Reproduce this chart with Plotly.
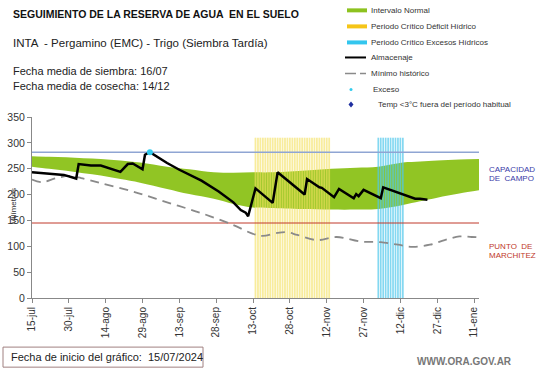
import datetime as dt
import plotly.graph_objects as go

# ---------------- data ----------------
start = dt.date(2024, 7, 15)

band_days = [0, 7, 14, 21, 28, 36, 44, 55, 64, 74, 82, 90, 97, 110, 122, 132, 141, 151, 158, 165, 174, 183]
band_upper = [274, 273, 272, 270, 269, 266, 262, 254, 249, 243, 242, 243, 243, 246, 250, 252, 254, 262, 264, 266, 268, 269]
band_lower = [254, 250, 246, 241, 237, 230, 223, 211, 201, 192, 182, 175, 174, 172, 171, 171, 172, 180, 187, 194, 202, 209]

alm_days = [0, 7, 13, 18, 19, 24, 28, 36, 39, 41, 45, 46, 48, 55, 60, 69, 76, 82, 85, 87, 88, 91, 98, 100,
            111, 112, 117, 118, 123, 125, 131, 132, 133, 135, 142, 143, 151, 156, 158, 161]
alm_vals = [243, 241, 238, 231, 259, 256, 256, 244, 259, 260, 249, 277, 282, 261, 248, 227, 206, 185, 170, 165, 158, 212, 184, 243,
            200, 230, 214, 213, 195, 211, 193, 201, 197, 209, 193, 214, 201, 192, 192, 190]

min_days = [0, 4, 10, 15, 20, 28, 41, 55, 69, 82, 90, 94, 100, 104, 108, 116, 124, 134, 142, 149, 155, 162, 168, 174, 179, 183]
min_vals = [229, 224, 232, 236, 232, 222, 206, 185, 164, 141, 124, 120, 126, 127, 122, 112, 118, 109, 108, 103, 99, 103, 112, 119, 118, 117]

deficit_days = list(range(91, 122))      # Periodo crítico déficit hídrico
exceso_days = list(range(141, 152))      # Periodo crítico excesos hídricos
period_top = 310

exceso_pt_days = [48]
exceso_pt_vals = [282]

capacidad_campo = 282
punto_marchitez = 145

tick_days = list(range(0, 181, 15))
tick_labels = ["15-jul", "30-jul", "14-ago", "29-ago", "13-sep", "28-sep", "13-oct",
               "28-oct", "12-nov", "27-nov", "12-dic", "27-dic", "11-ene"]

y_ticks = [0, 50, 100, 150, 200, 250, 300, 350]


def D(d):
    return start + dt.timedelta(days=d)


fig = go.Figure()

# green band
fig.add_trace(go.Scatter(x=[D(d) for d in band_days], y=band_lower, mode="lines", line_shape="spline",
                         line=dict(width=0, color="rgba(0,0,0,0)"), hoverinfo="skip", showlegend=False))
fig.add_trace(go.Scatter(x=[D(d) for d in band_days], y=band_upper, mode="lines", fill="tonexty",
                         fillcolor="rgba(127,187,0,0.86)", line=dict(width=0, color="rgba(0,0,0,0)"),
                         showlegend=False, line_shape="spline"))


def stripes(days):
    xs, ys = [], []
    for d in days:
        xs += [D(d), D(d), None]
        ys += [0, period_top, None]
    return xs, ys


xs, ys = stripes(deficit_days)
fig.add_trace(go.Scatter(x=xs, y=ys, mode="lines", line=dict(color="rgba(243,224,95,0.62)", width=1.8),
                         showlegend=False))
xs, ys = stripes(exceso_days)
fig.add_trace(go.Scatter(x=xs, y=ys, mode="lines", line=dict(color="rgba(80,200,235,0.7)", width=1.7),
                         showlegend=False))

# reference lines
x_full = [D(0), D(183)]
fig.add_trace(go.Scatter(x=x_full, y=[capacidad_campo] * 2, mode="lines",
                         line=dict(color="#8FA5D3", width=1.5), showlegend=False))
fig.add_trace(go.Scatter(x=x_full, y=[punto_marchitez] * 2, mode="lines",
                         line=dict(color="#C0392B", width=1), showlegend=False))

# minimo historico
fig.add_trace(go.Scatter(x=[D(d) for d in min_days], y=min_vals, mode="lines", line_shape="spline",
                         line=dict(color="#8A8A8A", width=1.8, dash="9px,6px"), showlegend=False))

# almacenaje
fig.add_trace(go.Scatter(x=[D(d) for d in alm_days], y=alm_vals, mode="lines",
                         line=dict(color="black", width=2.5), showlegend=False))

# exceso point
fig.add_trace(go.Scatter(x=[D(d) for d in exceso_pt_days], y=exceso_pt_vals, mode="markers",
                         marker=dict(color="#33CCEE", size=6), showlegend=False))

# ---------------- layout ----------------
L, R, T, B = 32, 479, 117.4, 298.0


def px(x):
    return (x - L) / (R - L)


def py(y):
    return (B - y) / (B - T)


FONT = "Liberation Sans, Arial, sans-serif"
ann = []


def text(x, y, s, size, color="#222", bold=False, xanchor="left", angle=0):
    ann.append(dict(x=px(x), y=py(y), xref="paper", yref="paper", text=("<b>%s</b>" % s) if bold else s,
                    showarrow=False, xanchor=xanchor, yanchor="middle", textangle=angle,
                    font=dict(family=FONT, size=size, color=color)))


text(11, 15, "SEGUIMIENTO DE LA RESERVA DE AGUA  EN EL SUELO", 10.5, "#111", bold=True)
text(11, 44, "INTA  - Pergamino (EMC) - Trigo (Siembra Tardía)", 11.5, "#222")
text(11, 72, "Fecha media de siembra: 16/07", 11, "#222")
text(11, 86, "Fecha media de cosecha: 14/12", 11, "#222")

legend_rows = [11, 27, 43, 58, 74, 90, 105]
legend_text = ["Intervalo Normal", "Periodo Crítico Déficit Hídrico", "Periodo Crítico Excesos Hídricos",
               "Almacenaje", "Mínimo histórico", "Exceso", "Temp <3°C fuera del período habitual"]
for i, (yy, s) in enumerate(zip(legend_rows, legend_text)):
    xx = 369 if i < 5 else (371 if i == 5 else 376)
    text(xx, yy, s, 8, "#333")

text(487, 170, "CAPACIDAD", 8, "#3A3AA8")
text(487, 179, "DE  CAMPO", 8, "#3A3AA8")
text(487, 247, "PUNTO  DE", 8, "#C0392B")
text(487, 256, "MARCHITEZ", 8, "#C0392B")

text(14, 207, "Milímetros", 8, "#333", angle=-90, xanchor="center")

text(9, 357, "Fecha de inicio del gráfico:  15/07/2024", 11, "#222")
text(514, 361, "WWW.ORA.GOV.AR", 10, "#777", bold=True, xanchor="right")

shapes = []


def hline(x0, x1, y, color, width, dash="solid"):
    shapes.append(dict(type="line", xref="paper", yref="paper", x0=px(x0), x1=px(x1), y0=py(y), y1=py(y),
                       line=dict(color=color, width=width, dash=dash)))


hline(347, 367, legend_rows[0], "#8DC21F", 4)
hline(347, 367, legend_rows[1], "#F5C518", 4)
hline(347, 367, legend_rows[2], "#33C6EE", 4)
hline(345, 366, legend_rows[3], "black", 2)
hline(345, 356, legend_rows[4], "#8A8A8A", 1.5)
hline(360, 366, legend_rows[4], "#8A8A8A", 1.5)
shapes.append(dict(type="circle", xref="paper", yref="paper", xsizemode="pixel", ysizemode="pixel",
                   xanchor=px(351), yanchor=py(legend_rows[5]), x0=-1.5, x1=1.5, y0=-1.5, y1=1.5,
                   fillcolor="#33CCEE", line=dict(width=0)))
shapes.append(dict(type="path", xref="paper", yref="paper", xsizemode="pixel", ysizemode="pixel",
                   xanchor=px(351), yanchor=py(legend_rows[6]), path="M -2.5 0 L 0 3 L 2.5 0 L 0 -3 Z",
                   fillcolor="#1F2FA0", line=dict(width=0)))
# bottom box
shapes.append(dict(type="rect", xref="paper", yref="paper", x0=px(3), x1=px(203), y0=py(347), y1=py(367),
                   line=dict(color="#A08080", width=1), fillcolor="rgba(0,0,0,0)"))

fig.update_layout(
    width=541, height=368,
    margin=dict(l=L, r=541 - R, t=T, b=368 - B, autoexpand=False),
    paper_bgcolor="white", plot_bgcolor="white",
    showlegend=False,
    annotations=ann, shapes=shapes,
    font=dict(family=FONT, color="#333"),
    xaxis=dict(range=[D(0), D(182.5)], tickvals=[D(d) for d in tick_days], ticktext=tick_labels,
               tickangle=-90, tickfont=dict(size=10, color="#333"), showgrid=False, zeroline=False,
               showline=True, linecolor="#888", linewidth=1, ticks="outside", ticklen=4, tickcolor="#888",
               automargin=False),
    yaxis=dict(range=[0, 350], tickvals=y_ticks, tickfont=dict(size=10.5, color="#333"), showgrid=False,
               zeroline=False, showline=True, linecolor="#888", linewidth=1, ticks="outside", ticklen=4,
               tickcolor="#888", automargin=False),
)

fig.write_html("out.html", config={"displayModeBar": False},
               post_script="document.body.style.margin='0';")
